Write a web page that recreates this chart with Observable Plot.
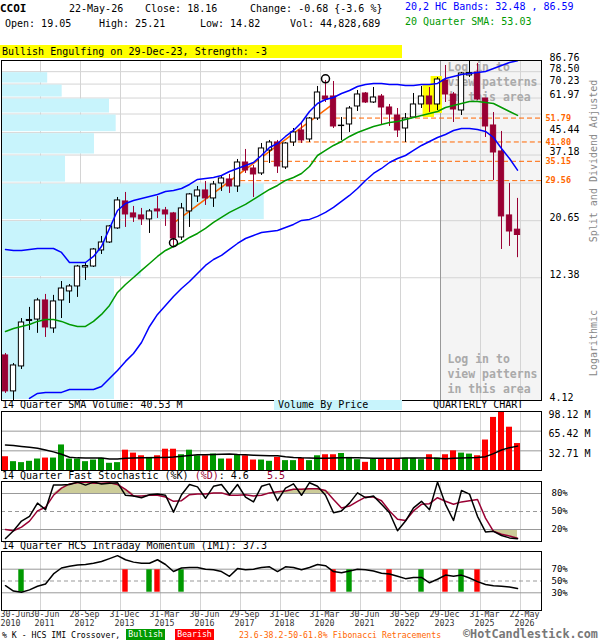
<!DOCTYPE html>
<html><head><meta charset="utf-8">
<script src="https://cdn.jsdelivr.net/npm/d3@7"></script>
<script src="https://cdn.jsdelivr.net/npm/@observablehq/plot@0.6"></script>
<style>
body{margin:0;background:#fff;}
#c{position:relative;width:600px;height:640px;overflow:hidden;font-family:"DejaVu Sans Mono",monospace;font-size:10px;color:#000;background:#fff;}
#c svg{position:absolute;left:0;}
.t{position:absolute;white-space:pre;line-height:12px;}
</style></head><body><div id="c"></div>
<script>
// ---------- data ----------
const tickIdx = [0,4,9,14,19,24,29,34,39,44,49,54,59,64];
const tickLabels = ["30-Jun\n2010","30-Jun\n2011","28-Sep\n2012","31-Dec\n2013","31-Mar\n2015","30-Jun\n2016","29-Sep\n2017","31-Dec\n2018","31-Mar\n2020","30-Jun\n2021","30-Sep\n2022","29-Dec\n2023","31-Mar\n2025","22-May\n2026"];
const gridOffset = 0.375;

const open  = [6.17,4.47,5.59,8.40,8.51,10.10,7.86,10.10,10.95,11.45,13.57,13.69,15.81,16.98,19.26,24.53,22.03,21.64,20.88,22.83,22.63,22.03,17.76,22.43,25.65,27.07,25.20,28.82,29.87,28.05,34.78,32.96,31.52,38.73,41.62,33.26,41.62,46.34,42.75,51.59,62.84,62.84,48.20,48.90,57.46,64.55,59.55,62.84,56.94,53.00,47.17,52.06,58.50,62.84,58.50,72.53,63.98,55.43,75.86,77.92,61.72,48.46,38.39,21.64,19.05];
const high  = [6.28,5.74,8.59,9.49,10.29,10.66,10.57,11.97,11.65,13.82,14.07,16.09,17.92,19.78,25.42,26.59,23.46,23.04,22.83,25.65,23.25,22.23,24.09,26.35,28.05,29.34,29.34,30.96,31.24,35.73,39.09,33.86,41.25,42.37,42.37,41.62,47.17,49.34,52.06,68.74,72.53,71.88,52.06,57.46,66.31,65.13,68.12,63.98,58.50,56.43,53.96,64.55,68.74,68.12,74.51,82.96,65.13,77.92,86.76,84.46,61.72,54.44,45.93,28.82,25.21];
const low   = [4.39,4.12,5.44,7.72,7.52,7.25,7.52,8.59,9.83,10.38,12.08,13.57,15.25,16.83,19.09,19.43,20.32,19.78,18.41,21.06,19.61,16.24,17.29,19.43,24.31,23.67,23.25,26.83,26.35,26.59,31.52,25.42,30.96,34.47,31.52,32.67,40.15,41.25,41.62,50.68,59.55,47.17,42.37,45.52,54.94,59.02,59.02,48.46,48.03,43.52,41.62,51.59,56.43,54.44,55.43,59.55,49.78,53.00,74.51,60.63,43.52,29.60,15.95,16.39,14.82];
const close = [4.47,5.64,8.29,8.48,10.10,7.93,10.01,11.24,11.45,13.69,13.75,15.95,16.98,19.61,24.75,21.83,21.25,20.88,22.43,22.43,21.83,17.60,23.04,26.12,27.07,25.20,28.56,30.14,28.05,34.78,32.38,31.24,39.44,41.62,33.56,41.25,45.52,42.37,51.59,65.13,61.17,48.03,48.40,56.43,63.98,59.55,62.28,56.94,53.48,46.34,51.59,58.50,62.84,58.50,73.18,63.98,55.93,77.23,77.50,61.17,48.03,38.04,21.45,18.74,18.16];

const upperBand = [15.95,15.81,15.81,15.95,16.09,16.09,16.09,15.53,14.19,14.19,14.19,14.98,16.38,19.26,22.63,24.09,24.75,25.20,25.65,26.12,26.83,27.07,27.55,28.56,29.87,30.14,30.41,30.96,32.09,32.96,33.86,34.78,37.03,39.79,41.25,43.92,46.34,49.78,54.94,59.02,61.17,62.28,64.55,66.31,68.74,69.98,70.61,70.61,69.98,69.98,69.35,69.35,69.98,69.98,70.61,73.84,75.19,76.54,77.23,77.92,78.62,80.76,82.96,85.22,86.59];
const lowerBand = [null,null,null,4.20,4.39,4.43,4.43,4.43,4.55,4.55,4.55,4.55,4.67,5.02,5.39,5.85,6.28,6.93,8.00,8.91,9.66,10.47,11.24,11.97,12.87,13.82,14.58,15.12,15.95,16.83,17.60,18.08,18.57,18.74,18.91,19.43,19.96,20.69,20.88,21.45,22.23,23.25,24.53,25.88,27.55,29.60,31.52,32.96,34.78,36.05,37.03,38.73,40.51,41.99,43.52,44.71,46.34,47.17,47.17,46.76,45.93,43.52,39.44,36.05,32.48];
const sma20 = [7.65,7.86,8.00,8.14,8.37,8.51,8.51,8.37,8.14,8.00,8.00,8.37,8.91,9.66,10.85,11.65,12.41,13.22,14.07,14.98,15.81,16.38,16.98,17.76,18.41,19.26,20.32,21.25,22.23,23.04,23.88,24.97,26.12,27.31,28.31,29.60,30.41,31.52,33.56,37.03,38.73,40.51,41.99,43.92,45.52,46.76,48.03,48.90,49.78,50.23,51.14,52.06,53.00,53.96,54.94,56.94,57.96,59.02,60.09,60.09,59.55,59.02,56.94,54.94,53.03];

const priceTicks = [4.12,12.38,20.65,28.91,37.18,45.44,53.70,61.97,70.23,78.50,86.76];
const priceLabels = [4.12,12.38,20.65,37.18,45.44,61.97,70.23,78.50,86.76];
const fibLevels = [51.79,41.80,35.15,29.56];
const fibStart = [41.25,35.6,32.25,29.4];
const trendIdx = [21,40.8];
const trendVal = [20.2,58.3];
const markIdx = [21,40];
const markVal = [16.94,73.65];
const highlightIdx = [53,54];
const highlightLo = [52.06,53.96];
const highlightHi = [69.35,75.19];

const vbpLo  = [4.12,12.38,20.65,28.91,37.18,45.44,53.70,61.97,70.23];
const vbpHi  = [12.38,20.65,28.91,37.18,45.44,53.70,61.97,70.23,78.50];
const vbpVol = [203,251,472,115,167,206,194,109,83];
const vbpMax = 970;

const volume = [22.9,14.7,13.1,15.3,19.1,20.7,20.7,42.5,19.1,19.1,14.7,17.4,20.2,12.0,13.1,33.8,28.9,24.5,21.8,24.5,35.4,35.4,26.2,33.8,24.5,24.5,27.3,19.1,19.1,25.6,24.5,17.4,17.4,15.3,21.8,16.4,16.4,20.2,16.4,24.5,26.2,26.2,28.3,21.8,18.0,13.6,19.1,19.1,19.1,19.1,20.2,20.2,18.0,26.2,20.7,26.2,32.7,28.9,27.3,24.5,50.7,88.3,98.0,72.0,44.83];
const volDir = "rggggrggggggggg rrrgrrrgggrggrgrrggrggrggrrgggrgrrrgggrgrrggrrrrrr".replace(/ /g,"").split("");
const volSMA = [42.5,41.5,40,38.5,37,34,31,27,22,21,20.7,20.7,20.7,19.1,19.1,20.2,20.7,21,21.3,21.8,21.8,22.5,23.5,25,26,26.2,26.5,27,27.3,26.5,26.2,25.5,25,24.5,24.5,23,21.8,21,20.7,20.2,20.2,20.7,21.3,21.3,21,20.7,20.2,20.2,20.2,20.2,20.7,20.7,20.7,20.7,20.2,19.6,20.2,20.7,21.3,21.8,23,28,34,38,40.53];
const volTicks = [32.71,65.42,98.12];

const stochK = [5,18,34,42,64,53,94,94,95,99,94,99,96,97,98,77,76,73,78,79,77,49,78,95,91,72,92,95,78,95,74,66,92,96,68,89,96,77,98,92,77,48,51,64,81,73,76,62,48,18,34,56,67,53,99,62,35,85,79,42,16,17,10,6,4.6];
const stochD = [20,18,24,34,51,57,77,89,96,98,99,97,97,98,95,87,76,76,77,77,74,67,68,78,79,79,81,81,77,77,78,76,77,81,83,84,87,87,88,88,85,70,56,59,67,74,74,68,51,37,35,51,62,63,73,67,62,66,68,70,39,17,12,9,5.5];
const imi = [42,33,31,35,41,45,62,72,75,77,78,80,83,88,93,86,82,80,80,86,78,66,72,73,73,70,69,66,58,71,69,70,73,74,66,74,73,69,73,78,76,66,64,67,70,69,67,63,62,58,54,56,56,47,53,60,58,60,55,49,44,42,41,40,37.3];
const crossIdx  = [2,15,18,19,22,41,43,48,52,55,57,59];
const crossType = ["bull","bear","bull","bear","bull","bear","bull","bear","bull","bear","bull","bear"];

// ---------- build ----------
const FONT = '"DejaVu Sans Mono", monospace';
const BEAR = "#990033", GRID = "#d4d4d4", ORANGE = "#ff6600";
const c = document.getElementById("c");
const xDomain = [-0.5, 67];
const xScale = {type: "linear", domain: xDomain, axis: null};
const gridPos = tickIdx.slice(1).map(i => i + gridOffset);
const loginStart = tickIdx[11] + gridOffset;
const style = {fontFamily: FONT, fontSize: "10px", background: "transparent", overflow: "visible"};

function place(svg, top) { svg.style.top = top + "px"; c.appendChild(svg); }
function mainPlot(marks, x) {
  return Plot.plot({width: 600, height: 362, marginTop: 20, marginBottom: 2, marginLeft: 1, marginRight: 59,
    x: x || xScale, y: {type: "log", domain: [priceTicks[0], priceTicks[priceTicks.length - 1]], axis: null},
    style, marks});
}

const candles = open.map((o, i) => ({i, open: o, high: high[i], low: low[i], close: close[i]}));
const upC = candles.filter(d => d.close >= d.open);
const dnC = candles.filter(d => d.close < d.open);
const series = arr => arr.map((v, i) => ({i, v}));
const loginText = "Log in to\nview patterns\nin this area";

// layer A: background grid + log-in area
place(mainPlot([
  Plot.rect([0], {x1: loginStart, x2: xDomain[1], fill: "#f4f4f4"}),
  Plot.ruleY(priceTicks.slice(1, -1), {stroke: GRID}),
  Plot.ruleX(gridPos.filter(g => g !== loginStart), {stroke: GRID}),
  Plot.ruleX([loginStart], {stroke: "#999"}),
  Plot.text([loginText], {x: loginStart, frameAnchor: "top", textAnchor: "start", lineAnchor: "top", dx: 7, dy: 0, fontSize: 11.5, fontWeight: "bold", fill: "#aaa", lineHeight: 1.3}),
  Plot.text([loginText], {x: loginStart, frameAnchor: "bottom", textAnchor: "start", lineAnchor: "bottom", dx: 7, dy: -8, fontSize: 11.5, fontWeight: "bold", fill: "#aaa", lineHeight: 1.3})
]), 40);

// layer B: volume by price
const vbp = vbpVol.map((v, k) => ({v, lo: vbpLo[k], hi: vbpHi[k]}));
place(mainPlot([
  Plot.rectX(vbp, {x: "v", y1: "lo", y2: "hi", fill: "#c8f4fc", insetTop: 1, insetBottom: 1})
], {type: "linear", domain: [0, vbpMax], axis: null}), 40);

// layer C: price marks
const hl = highlightIdx.map((i, k) => ({i, lo: highlightLo[k], hi: highlightHi[k]}));
const fib = fibLevels.map((v, k) => ({v, start: fibStart[k]}));
place(mainPlot([
  Plot.rect(hl, {x1: d => d.i - 0.8, x2: d => d.i + 0.62, y1: "lo", y2: "hi", fill: "#ffff00"}),
  Plot.ruleY(fib, {y: "v", x1: "start", x2: xDomain[1], stroke: ORANGE, strokeDasharray: "5,3"}),
  Plot.line(trendIdx.map((i, k) => ({i, v: trendVal[k]})), {x: "i", y: "v", stroke: ORANGE}),
  Plot.ruleX(upC, {x: "i", y1: "low", y2: "high", stroke: "black"}),
  Plot.ruleX(dnC, {x: "i", y1: "low", y2: "high", stroke: BEAR}),
  Plot.rect(upC, {x1: d => d.i - 0.33, x2: d => d.i + 0.33, y1: "open", y2: "close", fill: "white", stroke: "black"}),
  Plot.rect(dnC, {x1: d => d.i - 0.33, x2: d => d.i + 0.33, y1: "open", y2: "close", fill: BEAR, stroke: BEAR}),
  Plot.line(series(upperBand), {x: "i", y: "v", stroke: "#0000ff"}),
  Plot.line(series(lowerBand), {x: "i", y: "v", stroke: "#0000ff"}),
  Plot.line(series(sma20), {x: "i", y: "v", stroke: "#009900"}),
  Plot.dot(markIdx.map((i, k) => ({i, v: markVal[k]})), {x: "i", y: "v", r: 4, stroke: "black", fill: "none"}),
  Plot.frame({stroke: "black"}),
  Plot.text(priceLabels, {y: d => d, text: d => d.toFixed(2), frameAnchor: "right", textAnchor: "start", dx: 8, dy: -3, fill: "black"}),
  Plot.text(fibLevels, {y: d => d, text: d => d.toFixed(2), frameAnchor: "right", textAnchor: "start", dx: 4, fill: ORANGE, fontSize: 8.5, fontWeight: "bold"})
]), 40);

// volume panel
const vols = volume.map((v, i) => ({i, v, d: volDir[i]}));
place(Plot.plot({width: 600, height: 72, marginTop: 11, marginBottom: 2, marginLeft: 1, marginRight: 59,
  x: xScale, y: {domain: [0, volTicks[2]], axis: null}, style,
  marks: [
    Plot.ruleX(gridPos, {stroke: GRID}),
    Plot.ruleY(volTicks.slice(0, 2), {stroke: "#999"}),
    Plot.rectY(vols.filter(d => d.d === "g"), {x1: d => d.i - 0.375, x2: d => d.i + 0.375, y: "v", fill: "#009900"}),
    Plot.rectY(vols.filter(d => d.d === "r"), {x1: d => d.i - 0.375, x2: d => d.i + 0.375, y: "v", fill: "#ff0000"}),
    Plot.line(series(volSMA), {x: "i", y: "v", stroke: "black"}),
    Plot.frame({stroke: "black"}),
    Plot.text(volTicks, {y: d => d, text: d => d.toFixed(2) + " M", frameAnchor: "right", textAnchor: "start", dx: 7, dy: 3, fill: "black"})
  ]}), 400);

// stochastic panel
const st = stochK.map((k, i) => ({i, k, d: stochD[i]}));
place(Plot.plot({width: 600, height: 73, marginTop: 11, marginBottom: 2, marginLeft: 1, marginRight: 59,
  x: xScale, y: {domain: [0, 100], axis: null}, style,
  marks: [
    Plot.ruleX(gridPos, {stroke: GRID}),
    Plot.areaY(st, {x: "i", y1: 80, y2: d => Math.max(80, d.d), fill: "#cccc99"}),
    Plot.areaY(st, {x: "i", y1: 20, y2: d => Math.min(20, d.d), fill: "#cccc99"}),
    Plot.ruleY([20, 80], {stroke: "#999"}),
    Plot.ruleY([50], {stroke: "#999", strokeDasharray: "4,3"}),
    Plot.line(st, {x: "i", y: "d", stroke: BEAR}),
    Plot.line(st, {x: "i", y: "k", stroke: "black"}),
    Plot.frame({stroke: "black"}),
    Plot.text([20, 50, 80], {y: d => d, text: d => d + "%", frameAnchor: "right", textAnchor: "start", dx: 10, fill: "black", fontSize: 9})
  ]}), 470);

// IMI panel
const cross = crossIdx.map((i, k) => ({i, t: crossType[k]}));
const xLab = tickIdx.map((i, k) => ({g: i + gridOffset, text: tickLabels[k]}));
place(Plot.plot({width: 600, height: 99, marginTop: 10, marginBottom: 30, marginLeft: 1, marginRight: 59,
  x: xScale, y: {domain: [0, 100], axis: null}, style,
  marks: [
    Plot.ruleX(gridPos, {stroke: GRID}),
    Plot.ruleY([30, 70], {stroke: "#999"}),
    Plot.ruleY([50], {stroke: "#999", strokeDasharray: "4,3"}),
    Plot.rect(cross.filter(d => d.t === "bull"), {x1: d => d.i - 0.34, x2: d => d.i + 0.34, y1: 31, y2: 69, fill: "#009900"}),
    Plot.rect(cross.filter(d => d.t === "bear"), {x1: d => d.i - 0.34, x2: d => d.i + 0.34, y1: 31, y2: 69, fill: "#ff0000"}),
    Plot.line(series(imi), {x: "i", y: "v", stroke: "black"}),
    Plot.frame({stroke: "black"}),
    Plot.text([30, 50, 70], {y: d => d, text: d => d + "%", frameAnchor: "right", textAnchor: "start", dx: 10, fill: "black", fontSize: 9}),
    Plot.text(xLab.slice(0, 1), {text: "text", frameAnchor: "bottom-left", textAnchor: "start", lineAnchor: "top", dx: -1, dy: 0, fill: "#333", fontSize: 8.3, lineHeight: 1.12}),
    Plot.text(xLab.slice(1), {x: "g", text: "text", frameAnchor: "bottom", lineAnchor: "top", dx: 4, dy: 0, fill: "#333", fontSize: 8.3, lineHeight: 1.12})
  ]}), 541);

// ---------- text ----------
function put(html, left, top, css) {
  const d = document.createElement("div");
  d.className = "t"; d.innerHTML = html;
  d.style.left = left + "px"; d.style.top = top + "px";
  if (css) d.style.cssText += css;
  c.appendChild(d); return d;
}
put("<b>CCOI</b>", 0, 3, "font-size:11px");
put("22-May-26", 69, 3);
put("Close: 18.16", 145, 3);
put("Change: -0.68 {-3.6 %}", 250, 3);
put("20,2 HC Bands: 32.48 , 86.59", 405, 1, "color:#0000ff");
put("Open: 19.05", 5, 18);
put("High: 25.21", 99, 18);
put("Low: 14.82", 200, 18);
put("Vol: 44,828,689", 290, 18);
put("20 Quarter SMA: 53.03", 405, 16, "color:#009900");
put("Bullish Engulfing on 29-Dec-23, Strength: -3", 0, 45, "width:400px;height:13px;line-height:13px;background:#ffff00;padding-left:2px");

put("14 Quarter SMA Volume: 40.53 M", 2, 399);
put("Volume By Price", 274, 400, "width:124px;height:10px;line-height:10px;background:#c8f4fc;padding-left:4px");
put("QUARTERLY CHART", 433, 399);
put('14 Quarter Fast Stochastic (%K) <span style="color:#990033">(%D)</span>: 4.6   <span style="color:#990033">5.5</span>', 2, 470);
put("14 Quarter HCS Intraday Momentum (IMI): 37.3", 2, 540);

put("Split and Dividend Adjusted", 494, 155, "width:200px;text-align:center;color:#888;transform:rotate(-90deg)");
put("Logarithmic", 494, 337, "width:200px;text-align:center;color:#888;transform:rotate(-90deg)");

put("% K - HCS IMI Crossover,", 2, 630, "font-size:8.2px;line-height:10px");
put("Bullish", 126, 629, "font-size:8.2px;color:#fff;background:#009900;width:39px;height:11px;line-height:11px;text-align:center");
put("Bearish", 175, 629, "font-size:8.2px;color:#fff;background:#ff0000;width:39px;height:11px;line-height:11px;text-align:center");
put("23.6-38.2-50-61.8% Fibonacci Retracements", 239, 630, "font-size:8.2px;color:#ff6600;line-height:10px");
put("<b>©HotCandlestick.com</b>", 463, 629, "font-size:11.8px;color:#777;line-height:11px");
</script></body></html>
